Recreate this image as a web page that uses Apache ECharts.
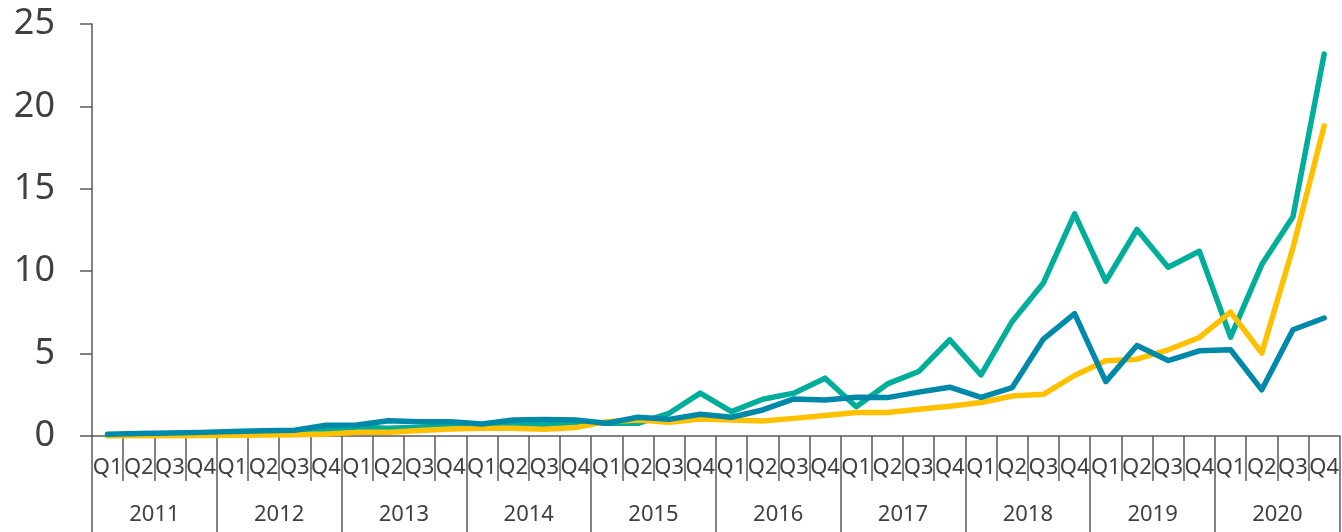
<!DOCTYPE html>
<html>
<head>
<meta charset="utf-8">
<script src="https://cdn.jsdelivr.net/npm/echarts@6/dist/echarts.min.js"></script>
<style>
html,body{margin:0;padding:0;background:#fff;}
#chart{width:1342px;height:532px;}
</style>
</head>
<body>
<div id="chart"></div>
<script>
const quarters = ['Q1','Q2','Q3','Q4'];
const years = ['2011','2012','2013','2014','2015','2016','2017','2018','2019','2020'];
const yTicks = [0,5,10,15,20,25];

const greenSeries = [0.05,0.07,0.08,0.1,0.12,0.13,0.15,0.4,0.53,0.47,0.53,0.63,0.67,0.71,0.67,0.83,0.77,0.77,1.38,2.6,1.48,2.23,2.6,3.51,1.78,3.16,3.91,5.84,3.71,6.95,9.29,13.48,9.39,12.53,10.24,11.21,6.0,10.4,13.3,23.17];
const blueSeries = [0.1,0.15,0.18,0.22,0.28,0.32,0.35,0.65,0.67,0.93,0.87,0.87,0.73,0.97,1.0,0.97,0.77,1.14,1.01,1.32,1.14,1.58,2.25,2.19,2.35,2.33,2.66,2.96,2.35,2.94,5.88,7.42,3.30,5.49,4.58,5.17,5.23,2.80,6.45,7.16];
const yellowSeries = [0.0,0.01,0.02,0.03,0.05,0.06,0.08,0.12,0.22,0.22,0.33,0.43,0.47,0.47,0.41,0.51,0.87,0.97,0.83,1.03,0.97,0.91,1.07,1.24,1.42,1.42,1.62,1.8,2.03,2.43,2.53,3.67,4.56,4.66,5.23,5.98,7.52,5.03,11.42,18.81];

const categories = [];
years.forEach(y => quarters.forEach(q => categories.push(q + ' ' + y)));

const axisColor = '#595959';
const textColor = '#404040';
const font = '"Noto Sans", "Open Sans", sans-serif';

const chart = echarts.init(document.getElementById('chart'));
chart.setOption({
  animation: false,
  grid: {left: 92, right: 0, top: 24, bottom: 96, containLabel: false},
  xAxis: [
    {
      type: 'category',
      data: categories,
      boundaryGap: true,
      axisLine: {show: true, lineStyle: {color: axisColor, width: 1.5}},
      axisTick: {show: true, interval: 0, length: 45, lineStyle: {color: axisColor, width: 1.5}},
      axisLabel: {
        interval: 0, margin: 21, color: textColor, fontSize: 22, fontFamily: font,
        formatter: v => v.split(' ')[0]
      },
      splitLine: {show: false}
    },
    {
      type: 'category',
      data: years,
      position: 'bottom',
      boundaryGap: true,
      axisLine: {show: false},
      axisTick: {show: true, interval: 0, length: 96, lineStyle: {color: axisColor, width: 1.5}},
      axisLabel: {interval: 0, margin: 68, color: textColor, fontSize: 22, fontFamily: font},
      splitLine: {show: false}
    }
  ],
  yAxis: {
    type: 'value',
    min: yTicks[0],
    max: yTicks[yTicks.length - 1],
    interval: 5,
    axisLine: {show: true, lineStyle: {color: axisColor, width: 1.5}},
    axisTick: {show: true, length: 12, lineStyle: {color: axisColor, width: 1.5}},
    axisLabel: {margin: 37, color: textColor, fontSize: 36, fontFamily: font},
    splitLine: {show: false}
  },
  series: [
    {type: 'line', data: greenSeries, xAxisIndex: 0, showSymbol: false, symbol: 'none',
      lineStyle: {color: '#00ae9a', width: 5.5, cap: 'round', join: 'round'}, itemStyle: {color: '#00ae9a'}},
    {type: 'line', data: yellowSeries, xAxisIndex: 0, showSymbol: false, symbol: 'none',
      lineStyle: {color: '#ffc000', width: 5.5, cap: 'round', join: 'round'}, itemStyle: {color: '#ffc000'}},
    {type: 'line', data: blueSeries, xAxisIndex: 0, showSymbol: false, symbol: 'none',
      lineStyle: {color: '#0089a8', width: 5.5, cap: 'round', join: 'round'}, itemStyle: {color: '#0089a8'}}
  ]
});
</script>
</body>
</html>
